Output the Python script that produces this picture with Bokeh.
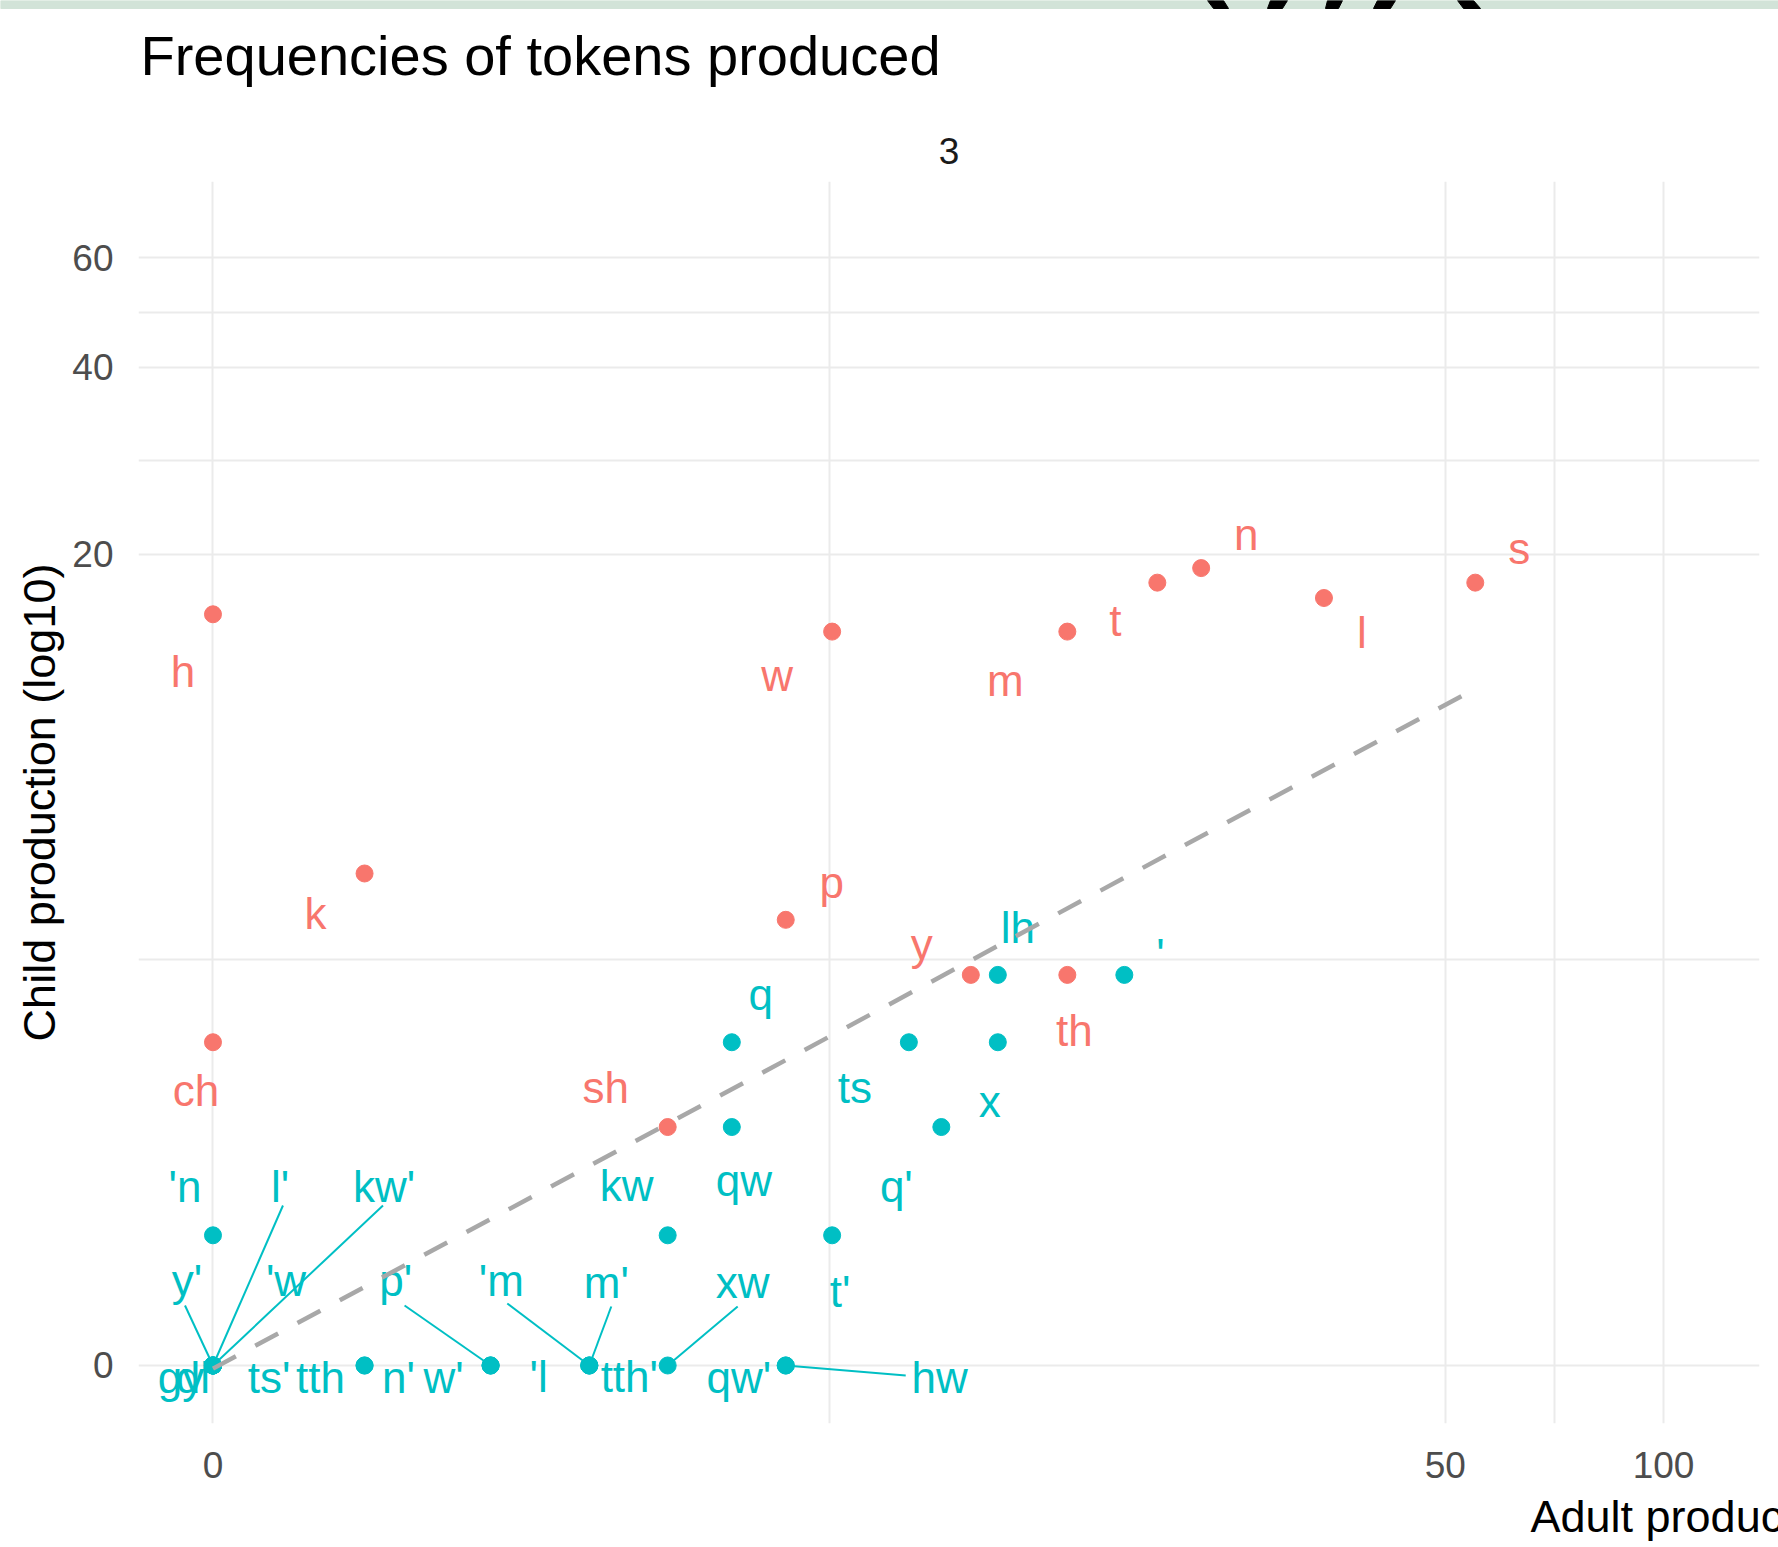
import numpy as np
from bokeh.plotting import figure
from bokeh.layouts import column
from bokeh.models import Range1d, FixedTicker, CustomJSTickFormatter
from bokeh.core.properties import value
from bokeh.embed import file_html
from bokeh.resources import INLINE

# ---- data: token counts (adult production on x, child production on y) ----
red_tokens = ["h", "ch", "k", "sh", "p", "w", "y", "m", "th", "t", "n", "l", "s"]
red_adult = [0, 0, 1, 4, 6, 7, 11, 15, 15, 20, 23, 34, 55]
red_child = [16, 3, 6, 2, 5, 15, 4, 15, 4, 18, 19, 17, 18]

cyan_tokens = ["lh", "'", "q", "ts", "x", "q'", "qw", "kw", "t'", "'n",
               "l'", "kw'", "y'", "'w", "gy", "dl", "ts'",
               "tth", "n'", "p'", "w'", "'l", "'m", "m'", "tth'",
               "xw", "qw'", "hw"]
cyan_adult = [12, 18, 5, 9, 12, 10, 5, 4, 7, 0,
              0, 0, 0, 0, 0, 0, 0,
              1, 1, 2, 2, 2, 3, 3, 3,
              4, 6, 6]
cyan_child = [4, 4, 3, 3, 3, 2, 2, 1, 1, 1,
              0, 0, 0, 0, 0, 0, 0,
              0, 0, 0, 0, 0, 0, 0, 0,
              0, 0, 0]

# linear fit on the pseudo-log scale (intercept, slope) and its x extent
fit_intercept = -0.005
fit_slope = 0.627
fit_x = [0, 55]

x_breaks = [0, 50, 100]
y_breaks = [0, 20, 40, 60]

TITLE = "Frequencies of tokens produced"
FACET = "3"
X_TITLE = "Adult production (log10)"
Y_TITLE = "Child production (log10)"

# ---- label placement (screen px, right / down from the point) ----
red_nudge = [(-30, 57), (-17, 48), (-49, 40), (-62, -40), (46, -37), (-55, 44),
             (-49, -30), (-62, 49), (7, 56), (-42, 38), (45, -34), (38, 34), (44, -34)]
cyan_nudge = [(20, -47), (36, -20), (29, -48), (-54, 45), (-8, 59), (-45, 59),
              (12, 53), (-41, -50), (8, 56), (-28, -49),
              (67, -179), (171, -179), (-26, -85), (73, -85), (-32, 12), (-20, 12), (56, 12),
              (-44, 12), (34, 12), (-95, -85), (-47, 12), (48, 11), (-88, -85), (17, -83), (40, 11),
              (75, -83), (-47, 12), (154, 12)]
# repel segment end points (screen px from the point), None = no segment
cyan_segment = [None] * 10 + [(70, -160), (170, -160), (-28, -60), None, None, None, None,
                              None, None, (-86, -60), None, None, (-82, -62), (22, -59), None,
                              (70, -59), None, (120, 10)]

RED = "#F8766D"
CYAN = "#00BFC4"
FONT = "Liberation Sans"
GRID = "#EBEBEB"


def pseudo_log(v):
    return np.arcsinh(np.asarray(v, dtype=float) / 2.0) / np.log(10)


def no_frame_align(f):
    if "frame_align" in f.properties():
        f.frame_align = False


def blank(width, height):
    f = figure(width=width, height=height, x_range=Range1d(0, width),
               y_range=Range1d(height, 0), output_backend="svg",
               toolbar_location=None, x_axis_location=None, y_axis_location=None,
               min_border=0)
    f.grid.visible = False
    f.outline_line_color = None
    f.background_fill_color = "white"
    f.border_fill_color = "white"
    no_frame_align(f)
    return f


W = 1778
HEAD_H, MAIN_H, FOOT_H = 181, 1305, 61
LEFT, RIGHT, BOTTOM = 138, 19, 63
FRAME_W = W - LEFT - RIGHT
FRAME_H = MAIN_H - BOTTOM
X0, X1 = -0.1027, 2.1324
Y0, Y1 = -0.0931, 1.9005
XPX = FRAME_W / (X1 - X0)
YPX = FRAME_H / (Y1 - Y0)

# ---- header: banner strip, title and facet strip ----
head = blank(W, HEAD_H)
head.quad(left=0, right=W, top=0, bottom=8, color="#D2E3D8")
strokes = [((1207, 1223), (1213, 1228)), ((1270, 1287), (1267, 1282)),
           ((1327, 1342), (1325, 1338)), ((1377, 1395), (1373, 1390)),
           ((1457, 1473), (1463, 1480))]
head.patches([[t[0], t[1], b[1], b[0]] for t, b in strokes],
             [[0, 0, 8, 8] for _ in strokes], color="black")
head.text([140], [55], text=[TITLE], text_font=value(FONT), text_font_size="56px",
          text_color="black", text_align="left", text_baseline="alphabetic")
head.text([LEFT + FRAME_W / 2], [150], text=[FACET], text_font=value(FONT),
          text_font_size="37px", text_color="#1A1A1A", text_align="center",
          text_baseline="alphabetic")

# ---- main panel ----
p = figure(width=W, height=MAIN_H, x_range=Range1d(X0, X1), y_range=Range1d(Y0, Y1),
           output_backend="svg", toolbar_location=None,
           min_border_left=LEFT, min_border_right=RIGHT,
           min_border_top=0, min_border_bottom=BOTTOM)
p.outline_line_color = None
p.background_fill_color = "white"
p.border_fill_color = "white"
no_frame_align(p)

xt = pseudo_log(x_breaks)
yt = pseudo_log(y_breaks)
p.xaxis.ticker = FixedTicker(ticks=list(xt), minor_ticks=list((xt[:-1] + xt[1:]) / 2))
p.yaxis.ticker = FixedTicker(ticks=list(yt), minor_ticks=list((yt[:-1] + yt[1:]) / 2))
fmt = "return String(Math.round(2 * Math.sinh(tick * Math.LN10)));"
for ax in (p.xaxis[0], p.yaxis[0]):
    ax.formatter = CustomJSTickFormatter(code=fmt)
    ax.axis_line_color = None
    ax.major_tick_line_color = None
    ax.minor_tick_line_color = None
    ax.major_label_text_font = FONT
    ax.major_label_text_font_size = "37px"
    ax.major_label_text_color = "#4D4D4D"
p.xaxis.major_label_standoff = 22
p.yaxis.major_label_standoff = 19
p.yaxis.axis_label = Y_TITLE
p.yaxis.axis_label_text_font = FONT
p.yaxis.axis_label_text_font_size = "45px"
p.yaxis.axis_label_text_font_style = "normal"
p.yaxis.axis_label_text_color = "black"
p.yaxis.axis_label_standoff = 4

for g in (p.xgrid[0], p.ygrid[0]):
    g.grid_line_color = GRID
    g.grid_line_width = 2
    g.minor_grid_line_color = GRID
    g.minor_grid_line_width = 2

rx, ry = pseudo_log(red_adult), pseudo_log(red_child)
cx, cy = pseudo_log(cyan_adult), pseudo_log(cyan_child)

seg_x0, seg_y0, seg_x1, seg_y1 = [], [], [], []
for i, s in enumerate(cyan_segment):
    if s is None:
        continue
    seg_x0.append(cx[i]); seg_y0.append(cy[i])
    seg_x1.append(cx[i] + s[0] / XPX); seg_y1.append(cy[i] - s[1] / YPX)
p.segment(seg_x0, seg_y0, seg_x1, seg_y1, line_color=CYAN, line_width=2)

p.scatter(rx, ry, size=17, color=RED)
p.scatter(cx, cy, size=17, color=CYAN)

rlx = rx + np.array([d[0] for d in red_nudge]) / XPX
rly = ry - np.array([d[1] for d in red_nudge]) / YPX
clx = cx + np.array([d[0] for d in cyan_nudge]) / XPX
cly = cy - np.array([d[1] for d in cyan_nudge]) / YPX
p.text(rlx, rly, text=red_tokens, text_color=RED, text_font=value(FONT),
       text_font_size="44px", text_align="center", text_baseline="alphabetic")
p.text(clx, cly, text=cyan_tokens, text_color=CYAN, text_font=value(FONT),
       text_font_size="44px", text_align="center", text_baseline="alphabetic")

fxt = pseudo_log(fit_x)
p.line(fxt, fit_intercept + fit_slope * fxt, line_color="#A8A8A8",
       line_width=4.5, line_dash="26 22")

# ---- footer: x axis title ----
foot = blank(W, FOOT_H)
foot.text([1530], [30], text=[X_TITLE], text_font=value(FONT), text_font_size="45px",
          text_color="black", text_align="left", text_baseline="alphabetic")

layout = column(head, p, foot, spacing=0)
open("out.html", "w").write(file_html(layout, INLINE))
